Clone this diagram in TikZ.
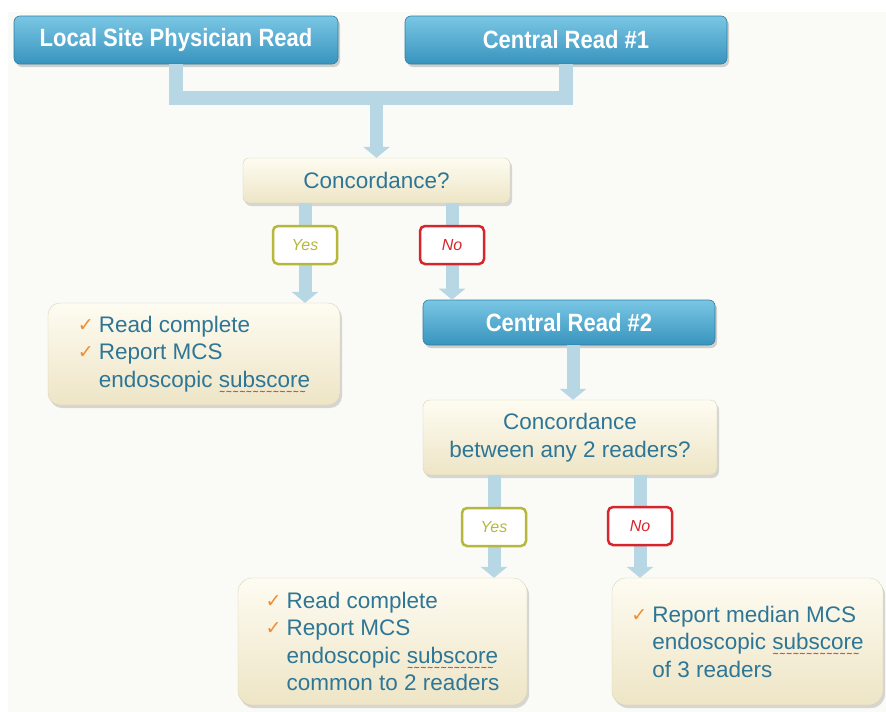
\documentclass[tikz,border=0pt]{standalone}
\usepackage{fontspec}
\setmainfont{Liberation Sans}
\newfontfamily\headfont[FakeStretch=0.88]{Liberation Sans}
\newfontfamily\symfont{DejaVu Sans}
\usetikzlibrary{shadows,arrows.meta,calc}
\definecolor{bg}{RGB}{250,250,246}
\definecolor{conn}{RGB}{184,215,229}
\definecolor{bluetop}{RGB}{122,198,228}
\definecolor{bluebot}{RGB}{56,148,190}
\definecolor{creamtop}{RGB}{254,252,242}
\definecolor{creambot}{RGB}{238,229,198}
\definecolor{txt}{RGB}{46,118,150}
\definecolor{chkc}{RGB}{240,140,50}
\definecolor{yesc}{RGB}{182,184,60}
\definecolor{noc}{RGB}{214,38,45}
\definecolor{squigc}{RGB}{215,45,45}
\newcommand\chk{\makebox[21pt][l]{\raisebox{1pt}{\textcolor{chkc}{\symfont\fontsize{19}{19}\selectfont ✓}}}}
\newcommand\ind{\hspace*{21pt}}
\newsavebox\sqbox
\newcommand\squig[1]{\sbox\sqbox{#1}%
  \rlap{\raisebox{-7pt}[0pt][0pt]{\textcolor{squigc}{\makebox[\wd\sqbox][l]{\symfont\bfseries\fontsize{8}{8}\selectfont\leaders\hbox{\char`\~}\hfill}}}}#1}
\tikzset{
  bluebox/.style={rounded corners=6pt, top color=bluetop, bottom color=bluebot,
    draw=bluebot!85!black, line width=0.6pt,
    drop shadow={shadow xshift=2pt, shadow yshift=-3pt, opacity=0.35},
    text=white, font=\headfont\bfseries\fontsize{25}{28}\selectfont, inner sep=0pt},
  creambox/.style={rounded corners=9pt, top color=creamtop, bottom color=creambot,
    draw=creambot!90!black, line width=0.3pt,
    drop shadow={shadow xshift=2pt, shadow yshift=-3pt, opacity=0.3},
    text=txt, font=\fontsize{22.5}{27.5}\selectfont, inner sep=0pt},
  yesbox/.style={draw=yesc, line width=2.5pt, rounded corners=5pt, fill=white,
    minimum width=64pt, minimum height=38pt, text=yesc,
    font=\itshape\fontsize{16}{16}\selectfont, inner sep=0pt},
  nobox/.style={yesbox, draw=noc, text=noc},
  flowarrow/.style={conn, line width=13pt, -{Triangle[width=26pt,length=11pt]}},
  joinline/.style={conn, line width=14pt, line join=miter}
}
\begin{document}
\begin{tikzpicture}[x=1pt,y=-1pt]
\useasboundingbox (0,0) rectangle (886,712);
\fill[white] (0,0) rectangle (886,712);
\fill[bg] (8,12) rectangle (886,712);

% top boxes
\node[bluebox, minimum width=324pt, minimum height=48pt] (local) at (176,40) {Local Site Physician Read};
\node[bluebox, minimum width=322pt, minimum height=48pt] (cr1) at (566,40) {Central Read \#1};

\node[creambox, rounded corners=6pt, minimum width=267pt, minimum height=45pt] (conc1) at (376.5,180.5) {Concordance?};

\node[creambox, rounded corners=12pt, minimum width=292pt, minimum height=102pt, align=left] (rc1) at (194,354)
  {\chk Read complete\\\chk Report MCS\\\ind endoscopic \squig{subscore}};

\node[bluebox, minimum width=292pt, minimum height=45pt] (cr2) at (569,322.5) {Central Read \#2};

\node[creambox, rounded corners=7pt, minimum width=294pt, minimum height=75pt, align=center] (conc2) at (570,437.5)
  {Concordance\\between any 2 readers?};

\node[creambox, rounded corners=14pt, minimum width=289pt, minimum height=127pt, align=left] (rc2) at (382.5,641.5)
  {\chk Read complete\\\chk Report MCS\\\ind endoscopic \squig{subscore}\\\ind common to 2 readers};

\node[creambox, rounded corners=14pt, minimum width=271pt, minimum height=127pt, align=left] (rc3) at (747.5,641.5)
  {\chk Report median MCS\\\ind endoscopic \squig{subscore}\\\ind of 3 readers};

% label box positions
\coordinate (yes1c) at (305,245);
\coordinate (no1c) at (452,245);
\coordinate (yes2c) at (494,527);
\coordinate (no2c) at (640,526);
\coordinate (mid2) at (573,0);

% connectors
\coordinate (j) at (conc1.north |- 0,98);
\draw[joinline] (local.south) |- (j) -| (cr1.south);
\draw[flowarrow] (j) -- (conc1.north);
\draw[flowarrow] (conc1.south -| yes1c) -- (rc1.north -| yes1c);
\draw[flowarrow] (conc1.south -| no1c) -- (cr2.north -| no1c);
\draw[flowarrow] (cr2.south -| mid2) -- (conc2.north -| mid2);
\draw[flowarrow] (conc2.south -| yes2c) -- (rc2.north -| yes2c);
\draw[flowarrow] (conc2.south -| no2c) -- (rc3.north -| no2c);

% labels
\node[yesbox] (yes1) at (yes1c) {Yes};
\node[nobox] (no1) at (no1c) {No};
\node[yesbox] (yes2) at (yes2c) {Yes};
\node[nobox] (no2) at (no2c) {No};
\end{tikzpicture}
\end{document}
